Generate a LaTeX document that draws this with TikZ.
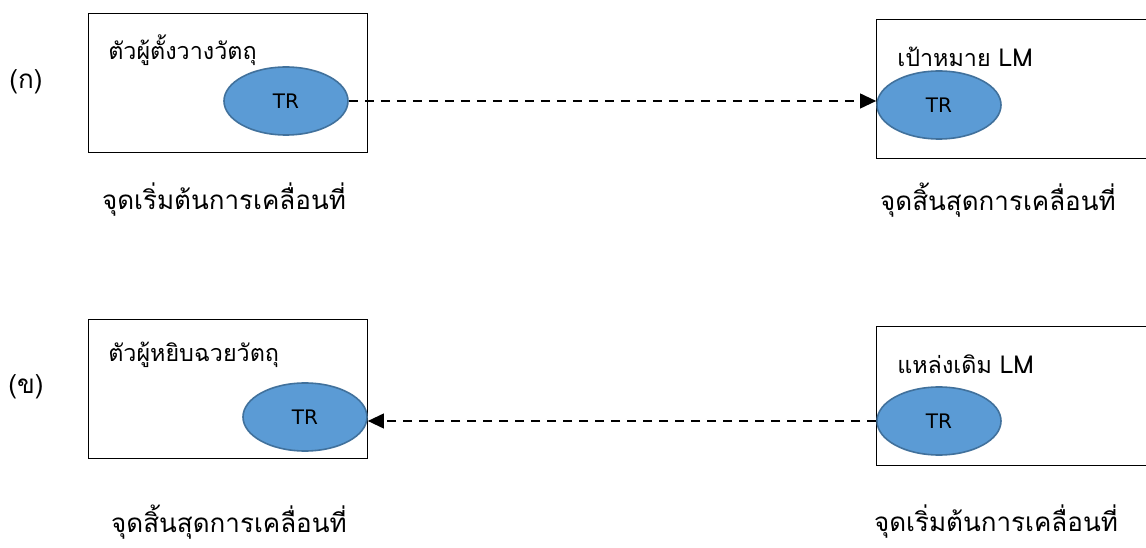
\documentclass[tikz,border=0pt]{standalone}
\usepackage{fontspec}
\setmainfont{DejaVu Sans}
\newfontfamily\thaifont[Script=Thai]{Loma}
\usepackage{xcolor}
\usetikzlibrary{arrows.meta,shapes.geometric,positioning}
\definecolor{trfill}{HTML}{5B9BD5}
\definecolor{trline}{HTML}{41719C}
\newcommand{\LMtag}{{\fontsize{18.5}{22}\selectfont LM}}

\begin{document}
\begin{tikzpicture}[x=0.75pt,y=-0.75pt]
    \tikzstyle{every node}=[inner sep=0pt]
    \tikzstyle{objbox}=[draw, rectangle, line width=0.9pt, minimum width=209pt, minimum height=104pt, anchor=north west]
    \tikzstyle{trblob}=[ellipse, draw=trline, fill=trfill, line width=1.2pt, minimum width=93pt, minimum height=51pt, font=\fontsize{15}{18}\selectfont]
    \tikzstyle{thtitle}=[anchor=west, font=\thaifont\fontsize{17.5}{21}\selectfont]
    \tikzstyle{thcaption}=[font=\thaifont\fontsize{19.5}{23}\selectfont]
    \tikzstyle{motion}=[dash pattern=on 7pt off 5pt, line width=1.5pt, -{Triangle[length=12pt,width=11pt]}]

    \useasboundingbox (0,0) rectangle (1146,548);

    % row (a)
    \node[objbox] (a1) at (88,13) {};
    \node[objbox, minimum width=205pt] (a2) at (876,19) {};
    \node[thtitle] (a1t) at (108,50) {ตัวผู้ตั้งวางวัตถุ};
    \node[thtitle] (a2t) at (897,57) {เป้าหมาย \LMtag};
    \node[trblob] (ea1) at (286,101) {TR};
    \node[trblob] (ea2) at (939,105) {TR};
    \node[thcaption] (ca1) at (224,200) {จุดเริ่มต้นการเคลื่อนที่};
    \node[thcaption] (ca2) at (998,200) {จุดสิ้นสุดการเคลื่อนที่};
    \node[thcaption] (la) at (26,82) {(ก)};

    % row (b)
    \node[objbox] (b1) at (88,319) {};
    \node[objbox, minimum width=205pt] (b2) at (876,326) {};
    \node[thtitle] (b1t) at (108,355) {ตัวผู้หยิบฉวยวัตถุ};
    \node[thtitle] (b2t) at (897,364) {แหล่งเดิม \LMtag};
    \node[trblob] (eb1) at (305,417) {TR};
    \node[trblob] (eb2) at (939,421) {TR};
    \node[thcaption] (cb1) at (229,522) {จุดสิ้นสุดการเคลื่อนที่};
    \node[thcaption] (cb2) at (996,522) {จุดเริ่มต้นการเคลื่อนที่};
    \node[thcaption] (lb) at (26,387) {(ข)};

    \draw[motion] (ea1.east) -- (ea1.east -| ea2.west);
    \draw[motion] (eb2.west) -- (eb2.west -| eb1.east);
\end{tikzpicture}
\end{document}
